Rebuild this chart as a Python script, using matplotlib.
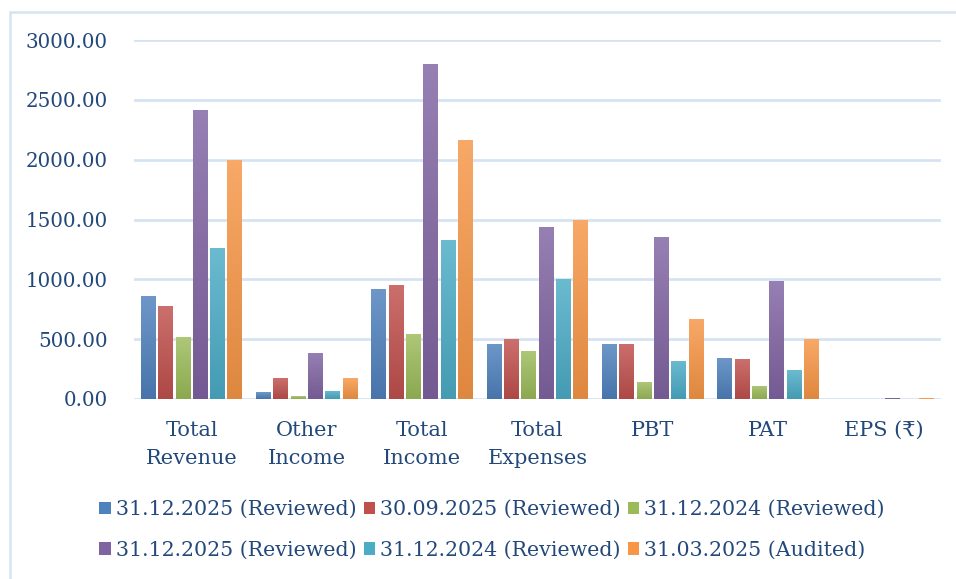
import matplotlib
matplotlib.use('Agg')
import matplotlib.pyplot as plt
import numpy as np
from matplotlib.colors import LinearSegmentedColormap, to_rgb
from matplotlib.patches import Rectangle

categories = ['Total\nRevenue', 'Other\nIncome', 'Total\nIncome', 'Total\nExpenses', 'PBT', 'PAT', 'EPS (₹)']
series_names = ['31.12.2025 (Reviewed)', '30.09.2025 (Reviewed)', '31.12.2024 (Reviewed)',
                '31.12.2025 (Reviewed)', '31.12.2024 (Reviewed)', '31.03.2025 (Audited)']
s1 = [861, 58, 920, 460, 460, 343, 3.5]
s2 = [777, 175, 953, 500, 460, 334, 3.4]
s3 = [518, 25, 543, 401, 142, 109, 1.1]
s4 = [2416, 385, 2800, 1440, 1355, 987, 9.9]
s5 = [1262, 67, 1330, 1003, 318, 242, 2.4]
s6 = [1998, 175, 2166, 1500, 669, 500, 5.0]
series = [s1, s2, s3, s4, s5, s6]
colors = ['#4F81BD', '#C0504D', '#9BBB59', '#8064A2', '#4BACC6', '#F79646']

TXT = '#23487A'
GRID = '#D6E3F3'
FONT = ['DejaVu Serif', 'DejaVu Sans']

W, H, DPI = 956, 579, 100
fig = plt.figure(figsize=(W / DPI, H / DPI), dpi=DPI)
ax = fig.add_axes([134 / W, 1 - 399 / H, (941 - 134) / W, (399 - 40) / H])

# outer chart frame (runs off the right and bottom edges)
fig.patches.append(Rectangle((10 / W, -0.05), 1.2, 1 - 12 / H + 0.05, transform=fig.transFigure,
                             fill=False, edgecolor=GRID, lw=1.8, zorder=0))

x = np.arange(len(categories))
step = 0.15
width = 0.13
grad = np.linspace(0, 1, 256).reshape(-1, 1)


def shade(c, f):
    r = np.array(to_rgb(c))
    if f > 0:
        return tuple(r + (1 - r) * f)
    return tuple(r * (1 + f))


handles = []
for i, (vals, c) in enumerate(zip(series, colors)):
    pos = x + (i - 2.5) * step
    bars = ax.bar(pos, vals, width, color=c, label=series_names[i], zorder=3)
    cmap = LinearSegmentedColormap.from_list('g%d' % i, [shade(c, -0.1), shade(c, 0.18)])
    for b in bars:
        b.set_facecolor('none')
        b.set_edgecolor('none')
        x0, y0 = b.get_x(), b.get_y()
        im = ax.imshow(grad, cmap=cmap, origin='lower', aspect='auto',
                       extent=[x0, x0 + b.get_width(), y0, y0 + b.get_height()], zorder=3)
        im.set_clip_path(b)
    handles.append(Rectangle((0, 0), 1, 1, facecolor=c))

ax.set_xlim(-0.5, len(categories) - 0.5)
ax.set_ylim(0, 3000)
ax.set_yticks(np.arange(0, 3001, 500))
ax.set_yticklabels(['%.2f' % v for v in np.arange(0, 3001, 500)], family=FONT, fontsize=14.3, color=TXT)
ax.set_xticks(x)
ax.set_xticklabels(categories, family=FONT, fontsize=15, color=TXT, linespacing=1.6)
ax.tick_params(length=0)
ax.tick_params(axis='y', pad=19)
ax.tick_params(axis='x', pad=16)
ax.grid(axis='y', color=GRID, lw=2, zorder=0)
for s in ax.spines.values():
    s.set_visible(False)
ax.set_facecolor('none')

order = [0, 3, 1, 4, 2, 5]
leg = fig.legend([handles[k] for k in order], [series_names[k] for k in order],
                 ncol=3, loc='center', bbox_to_anchor=(492 / W, 1 - 530 / H), frameon=False,
                 prop={'family': FONT, 'size': 14.8}, handlelength=0.55, handleheight=0.55,
                 handletextpad=0.25, columnspacing=0.35, labelspacing=1.05)
for t in leg.get_texts():
    t.set_color(TXT)

fig.savefig('out.png', dpi=DPI)
